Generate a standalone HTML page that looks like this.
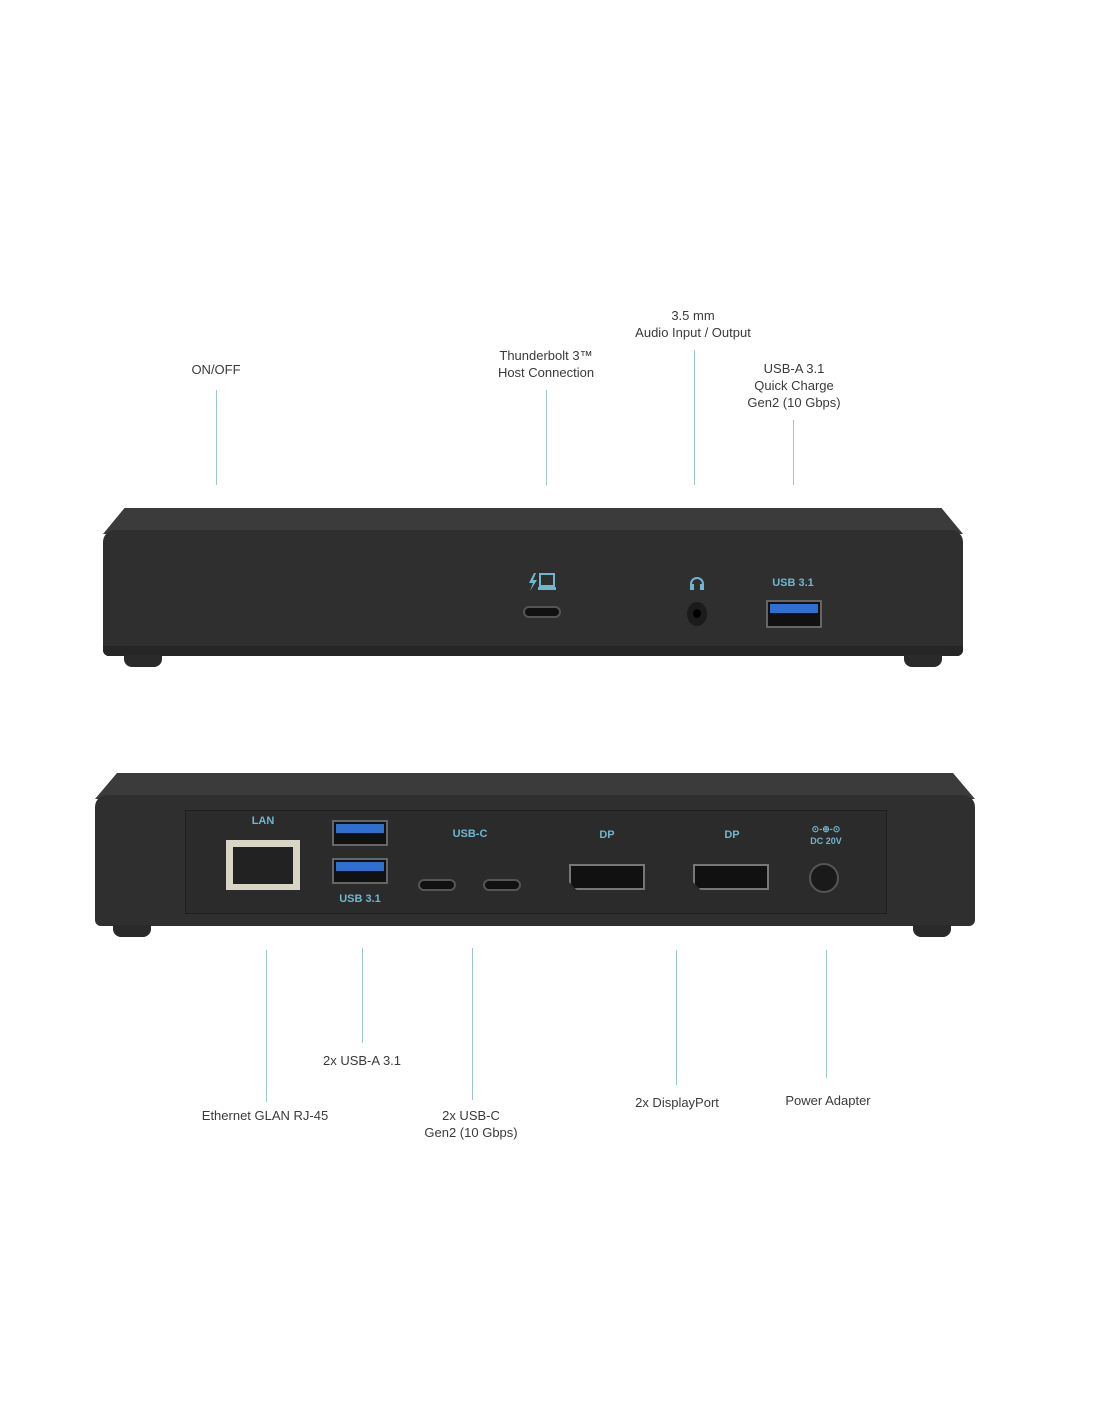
<!DOCTYPE html>
<html><head><style>
body{margin:0;width:1100px;height:1422px;background:#fff;position:relative;overflow:hidden;font-family:"Liberation Sans",sans-serif}
.a{position:absolute}
.t{position:absolute;font-size:13px;color:#3a3a3a;text-align:center;line-height:17px;transform:translateX(-50%);white-space:nowrap}
.l{position:absolute;width:1px;background:#9cc8c8}
.blue{position:absolute;color:#6fb6cf;font-weight:bold;font-size:11px;transform:translateX(-50%);white-space:nowrap}
.foot{position:absolute;width:38px;height:12px;background:#2a2a2a;border-radius:0 0 8px 8px}
.usbc{position:absolute;width:38px;height:12px;background:#111;border:2px solid #555;border-radius:7px;box-sizing:border-box}
.usba{position:absolute;width:56px;height:26px;background:#111;border:2px solid #666;box-sizing:border-box}
.usba::after{content:"";position:absolute;left:2px;right:2px;top:2px;height:9px;background:#2f6fd0}
.dp{position:absolute;width:76px;height:26px;background:#111;border:2px solid #777;box-sizing:border-box;clip-path:polygon(0 0,100% 0,100% 100%,10% 100%,0 70%)}
</style></head><body>
<div class="t" style="left:216px;top:361px">ON/OFF</div>
<div class="t" style="left:546px;top:347px">Thunderbolt 3™<br>Host Connection</div>
<div class="t" style="left:693px;top:307px">3.5 mm<br>Audio Input / Output</div>
<div class="t" style="left:794px;top:360px">USB-A 3.1<br>Quick Charge<br>Gen2 (10 Gbps)</div>
<div class="l" style="left:216px;top:390px;height:95px"></div>
<div class="l" style="left:546px;top:390px;height:95px"></div>
<div class="l" style="left:694px;top:350px;height:135px"></div>
<div class="l" style="left:793px;top:420px;height:65px"></div>

<!-- top device -->
<div class="a" style="left:103px;top:508px;width:860px;height:26px;background:#3b3b3b;clip-path:polygon(2.5% 0,97.5% 0,100% 100%,0 100%)"></div>
<div class="a" style="left:103px;top:530px;width:860px;height:126px;background:#2f2f2f;border-radius:12px 12px 6px 6px"></div>
<div class="a" style="left:103px;top:646px;width:860px;height:10px;background:#262626;border-radius:0 0 6px 6px"></div>
<div class="foot" style="left:124px;top:655px"></div>
<div class="foot" style="left:904px;top:655px"></div>
<svg class="a" style="left:526px;top:572px" width="32" height="20" viewBox="0 0 32 20"><path d="M8 1 L3 11 L7 11 L4 19 L11 8 L7 8 L10 1Z" fill="#6fb6cf"/><rect x="14" y="2" width="14" height="12" fill="none" stroke="#6fb6cf" stroke-width="2"/><rect x="12" y="15" width="18" height="3" fill="#6fb6cf"/></svg>
<div class="usbc" style="left:523px;top:606px"></div>
<svg class="a" style="left:689px;top:576px" width="16" height="14" viewBox="0 0 16 14"><path d="M2 12 V8 A6 6 0 0 1 14 8 V12" fill="none" stroke="#6fb6cf" stroke-width="2"/><rect x="1" y="8" width="4" height="6" fill="#6fb6cf"/><rect x="11" y="8" width="4" height="6" fill="#6fb6cf"/></svg>
<div class="a" style="left:687px;top:602px;width:20px;height:24px;border-radius:50%;background:#1b1b1b"></div>
<div class="a" style="left:693px;top:609px;width:8px;height:9px;border-radius:50%;background:#000"></div>
<div class="blue" style="left:793px;top:577px">USB 3.1</div>
<div class="usba" style="left:766px;top:600px;height:28px"></div>

<!-- bottom device -->
<div class="a" style="left:95px;top:773px;width:880px;height:26px;background:#3b3b3b;clip-path:polygon(2.5% 0,97.5% 0,100% 100%,0 100%)"></div>
<div class="a" style="left:95px;top:795px;width:880px;height:131px;background:#2f2f2f;border-radius:12px 12px 6px 6px"></div>
<div class="a" style="left:185px;top:810px;width:700px;height:102px;background:#2b2b2b;border:1px solid #1e1e1e"></div>
<div class="foot" style="left:113px;top:925px"></div>
<div class="foot" style="left:913px;top:925px"></div>
<div class="blue" style="left:263px;top:815px">LAN</div>
<div class="a" style="left:226px;top:840px;width:74px;height:50px;background:#d8d4c6"></div>
<div class="a" style="left:233px;top:847px;width:60px;height:37px;background:#222"></div>
<div class="usba" style="left:332px;top:820px"></div>
<div class="usba" style="left:332px;top:858px"></div>
<div class="blue" style="left:360px;top:893px">USB 3.1</div>
<div class="blue" style="left:470px;top:828px">USB-C</div>
<div class="usbc" style="left:418px;top:879px"></div>
<div class="usbc" style="left:483px;top:879px"></div>
<div class="blue" style="left:607px;top:829px">DP</div>
<div class="blue" style="left:732px;top:829px">DP</div>
<div class="dp" style="left:569px;top:864px"></div>
<div class="dp" style="left:693px;top:864px"></div>
<div class="blue" style="left:826px;top:823px;line-height:12px;font-size:9px;text-align:center">⊙-⊕-⊙<br>DC 20V</div>
<div class="a" style="left:809px;top:863px;width:30px;height:30px;border-radius:50%;background:#1a1a1a;border:2px solid #555;box-sizing:border-box"></div>

<div class="l" style="left:266px;top:950px;height:152px"></div>
<div class="l" style="left:362px;top:948px;height:95px"></div>
<div class="l" style="left:472px;top:948px;height:152px"></div>
<div class="l" style="left:676px;top:950px;height:135px"></div>
<div class="l" style="left:826px;top:950px;height:128px"></div>
<div class="t" style="left:362px;top:1052px">2x USB-A 3.1</div>
<div class="t" style="left:265px;top:1107px">Ethernet GLAN RJ-45</div>
<div class="t" style="left:471px;top:1107px">2x USB-C<br>Gen2 (10 Gbps)</div>
<div class="t" style="left:677px;top:1094px">2x DisplayPort</div>
<div class="t" style="left:828px;top:1092px">Power Adapter</div>
</body></html>
